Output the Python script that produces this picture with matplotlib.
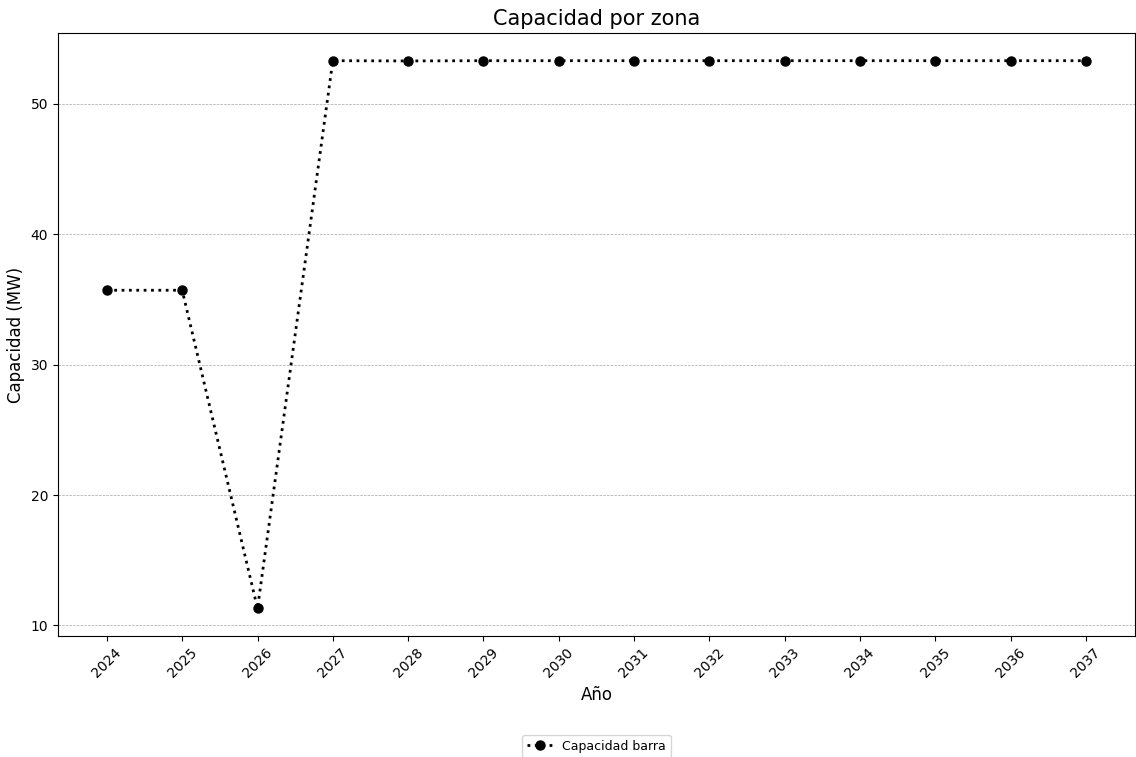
import matplotlib
matplotlib.use("Agg")
import matplotlib.pyplot as plt

# Datos
anios = [2024, 2025, 2026, 2027, 2028, 2029, 2030, 2031, 2032, 2033, 2034, 2035, 2036, 2037]
capacidad = [35.7, 35.7, 11.3, 53.3, 53.28, 53.3, 53.3, 53.3, 53.3, 53.3, 53.3, 53.3, 53.3, 53.3]

fig, ax = plt.subplots(figsize=(11.36, 7.57), dpi=100)

ax.plot(anios, capacidad, linestyle=':', marker='o', color='black',
        linewidth=2, markersize=6.5, label='Capacidad barra')

ax.set_title('Capacidad por zona', fontsize=15)
ax.set_xlabel('Año', fontsize=12)
ax.set_ylabel('Capacidad (MW)', fontsize=12)
ax.set_xticks(anios)
ax.set_xticklabels([str(a) for a in anios], rotation=45)
ax.grid(axis='y', linestyle='--', linewidth=0.5, color='gray', alpha=0.7)

ax.legend(loc='center', bbox_to_anchor=(0.5, -0.183), fontsize=9)

fig.subplots_adjust(left=0.051, right=0.999, top=0.956, bottom=0.160)
fig.savefig('out.png', dpi=100)
